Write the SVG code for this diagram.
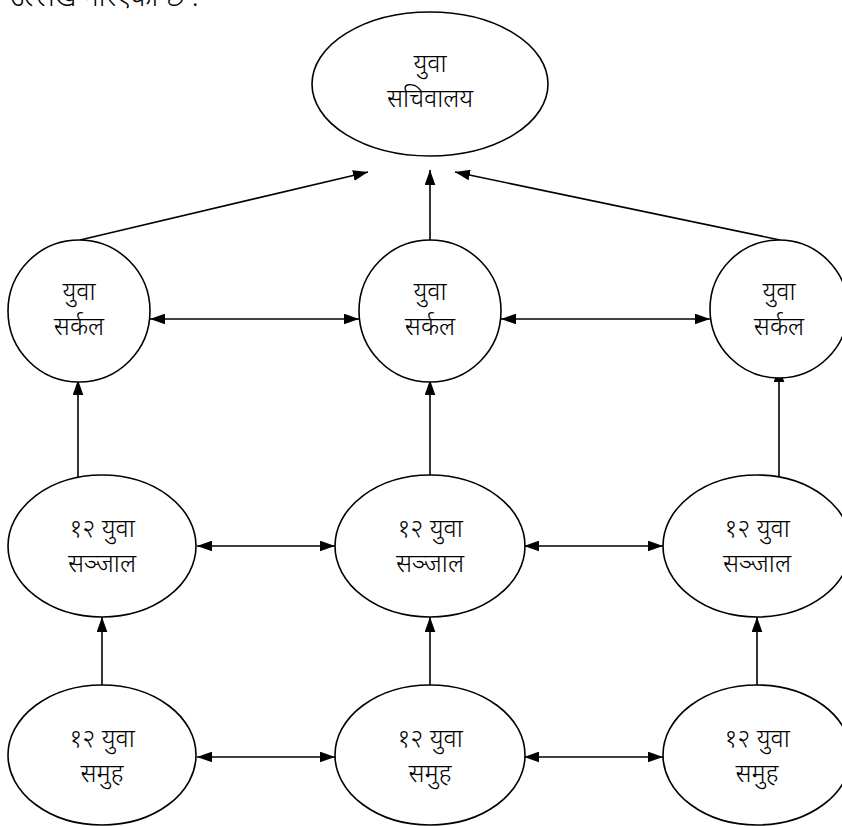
<svg xmlns="http://www.w3.org/2000/svg" width="842" height="826" viewBox="0 0 842 826">
<defs>
<marker id="ah" viewBox="0 0 14 10" refX="14" refY="5" markerWidth="15" markerHeight="11" markerUnits="userSpaceOnUse" orient="auto-start-reverse">
<path d="M0,0 L14,5 L0,10 Z" fill="#000"/>
</marker>
</defs>
<style>
.n{fill:#fff;stroke:#000;stroke-width:1.6}
.t{font-family:"Noto Sans","Noto Sans Devanagari","Lohit Devanagari",sans-serif;font-size:25px;font-weight:300;fill:#000;text-anchor:middle}
.c{stroke:#000;stroke-width:1.6;fill:none}
</style>
<rect width="842" height="826" fill="#fff"/>
<text class="t" x="10" y="6" style="text-anchor:start;font-size:28px">उल्लेख गरिएको छ :</text>
<g id="connectors">
<line class="c" x1="80" y1="240" x2="368" y2="172" marker-end="url(#ah)"/>
<line class="c" x1="430" y1="240" x2="430" y2="170" marker-end="url(#ah)"/>
<line class="c" x1="780" y1="240" x2="455" y2="172" marker-end="url(#ah)"/>
<line class="c" x1="150" y1="319" x2="359" y2="319" marker-start="url(#ah)" marker-end="url(#ah)"/>
<line class="c" x1="501" y1="319" x2="710" y2="319" marker-start="url(#ah)" marker-end="url(#ah)"/>
<line class="c" x1="78" y1="477" x2="78" y2="380" marker-end="url(#ah)"/>
<line class="c" x1="430" y1="475" x2="430" y2="380" marker-end="url(#ah)"/>
<line class="c" x1="779" y1="478" x2="779" y2="367" marker-end="url(#ah)"/>
<line class="c" x1="197" y1="546" x2="335" y2="546" marker-start="url(#ah)" marker-end="url(#ah)"/>
<line class="c" x1="524" y1="546" x2="663" y2="546" marker-start="url(#ah)" marker-end="url(#ah)"/>
<line class="c" x1="102" y1="685" x2="102" y2="617" marker-end="url(#ah)"/>
<line class="c" x1="430" y1="685" x2="430" y2="617" marker-end="url(#ah)"/>
<line class="c" x1="757" y1="685" x2="757" y2="617" marker-end="url(#ah)"/>
<line class="c" x1="197" y1="757" x2="335" y2="757" marker-start="url(#ah)" marker-end="url(#ah)"/>
<line class="c" x1="524" y1="757" x2="663" y2="757" marker-start="url(#ah)" marker-end="url(#ah)"/>
</g>
<g id="sachivalaya">
<ellipse class="n" cx="430" cy="84" rx="118" ry="72"/>
<text class="t" x="430" y="72">युवा</text>
<text class="t" x="430" y="107">सचिवालय</text>
</g>
<g id="circle1">
<circle class="n" cx="79" cy="311" r="71"/>
<text class="t" x="79" y="300">युवा</text>
<text class="t" x="79" y="335">सर्कल</text>
</g>
<g id="circle2">
<circle class="n" cx="430" cy="311" r="71"/>
<text class="t" x="430" y="300">युवा</text>
<text class="t" x="430" y="335">सर्कल</text>
</g>
<g id="circle3">
<circle class="n" cx="779" cy="309" r="69"/>
<text class="t" x="779" y="300">युवा</text>
<text class="t" x="779" y="335">सर्कल</text>
</g>
<g id="sanjal1">
<ellipse class="n" cx="102" cy="546" rx="94" ry="71"/>
<text class="t" x="102" y="537">१२ युवा</text>
<text class="t" x="102" y="572">सञ्जाल</text>
</g>
<g id="sanjal2">
<ellipse class="n" cx="430" cy="546" rx="95" ry="71"/>
<text class="t" x="430" y="537">१२ युवा</text>
<text class="t" x="430" y="572">सञ्जाल</text>
</g>
<g id="sanjal3">
<ellipse class="n" cx="757" cy="546" rx="94" ry="71"/>
<text class="t" x="757" y="537">१२ युवा</text>
<text class="t" x="757" y="572">सञ्जाल</text>
</g>
<g id="samuh1">
<ellipse class="n" cx="102" cy="755" rx="94" ry="70"/>
<text class="t" x="102" y="747">१२ युवा</text>
<text class="t" x="102" y="782">समुह</text>
</g>
<g id="samuh2">
<ellipse class="n" cx="430" cy="755" rx="95" ry="70"/>
<text class="t" x="430" y="747">१२ युवा</text>
<text class="t" x="430" y="782">समुह</text>
</g>
<g id="samuh3">
<ellipse class="n" cx="757" cy="755" rx="94" ry="70"/>
<text class="t" x="757" y="747">१२ युवा</text>
<text class="t" x="757" y="782">समुह</text>
</g>
</svg>
